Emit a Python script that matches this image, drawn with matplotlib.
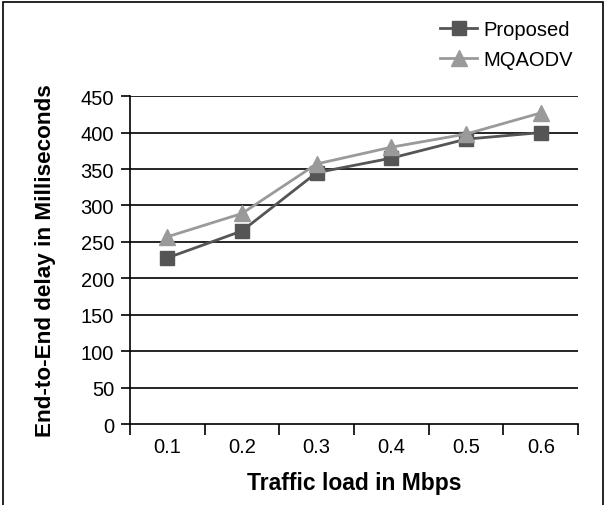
import matplotlib.pyplot as plt
import numpy as np
from matplotlib.patches import Rectangle

plt.rcParams['font.family'] = ['Liberation Sans', 'DejaVu Sans']

loads = ['0.1', '0.2', '0.3', '0.4', '0.5', '0.6']
proposed = [228, 265, 345, 365, 391, 400]
mqaodv = [257, 289, 357, 380, 398, 427]
yticks = [0, 50, 100, 150, 200, 250, 300, 350, 400, 450]

fig = plt.figure(figsize=(6.06, 5.06), dpi=100)
ax = fig.add_axes([0.2145, 0.160, 0.7395, 0.648])

x = np.arange(len(loads))
ax.plot(x, proposed, color='#555555', lw=2, marker='s', ms=10, label='Proposed', zorder=3)
ax.plot(x, mqaodv, color='#9a9a9a', lw=2, marker='^', ms=11, label='MQAODV', zorder=3)

ax.set_xlim(-0.5, len(loads) - 0.5)
ax.set_ylim(0, 450)
ax.set_yticks(yticks)
for v in yticks[1:]:
    ax.axhline(v, color='black', lw=1.2, zorder=1)

# category ticks on boundaries, labels centred
ax.set_xticks(np.arange(len(loads) + 1) - 0.5)
ax.set_xticklabels([])
ax.set_xticks(x, minor=True)
ax.set_xticklabels(loads, minor=True)
ax.tick_params(axis='x', which='major', length=8, width=1.2, direction='out')
ax.tick_params(axis='x', which='minor', length=0, pad=9, labelsize=14.5)
ax.tick_params(axis='y', length=6.5, width=1.2, pad=5, labelsize=14.5)

for s in ['top', 'right']:
    ax.spines[s].set_visible(False)
for s in ['left', 'bottom']:
    ax.spines[s].set_linewidth(1.2)

ax.set_xlabel('Traffic load in Mbps', fontsize=16.5, fontweight='bold', labelpad=11)
ax.set_ylabel('End-to-End delay in Milliseconds', fontsize=16.2, fontweight='bold', labelpad=18)

fig.legend(loc='upper right', bbox_to_anchor=(0.975, 0.995), frameon=False,
           fontsize=14.5, handlelength=1.85, handletextpad=0.3, labelspacing=0.55)

fig.patches.append(Rectangle((0.005, -0.01), 0.99, 1.004, transform=fig.transFigure,
                             fill=False, edgecolor='black', lw=1.2))

fig.savefig('out.png', dpi=100)
